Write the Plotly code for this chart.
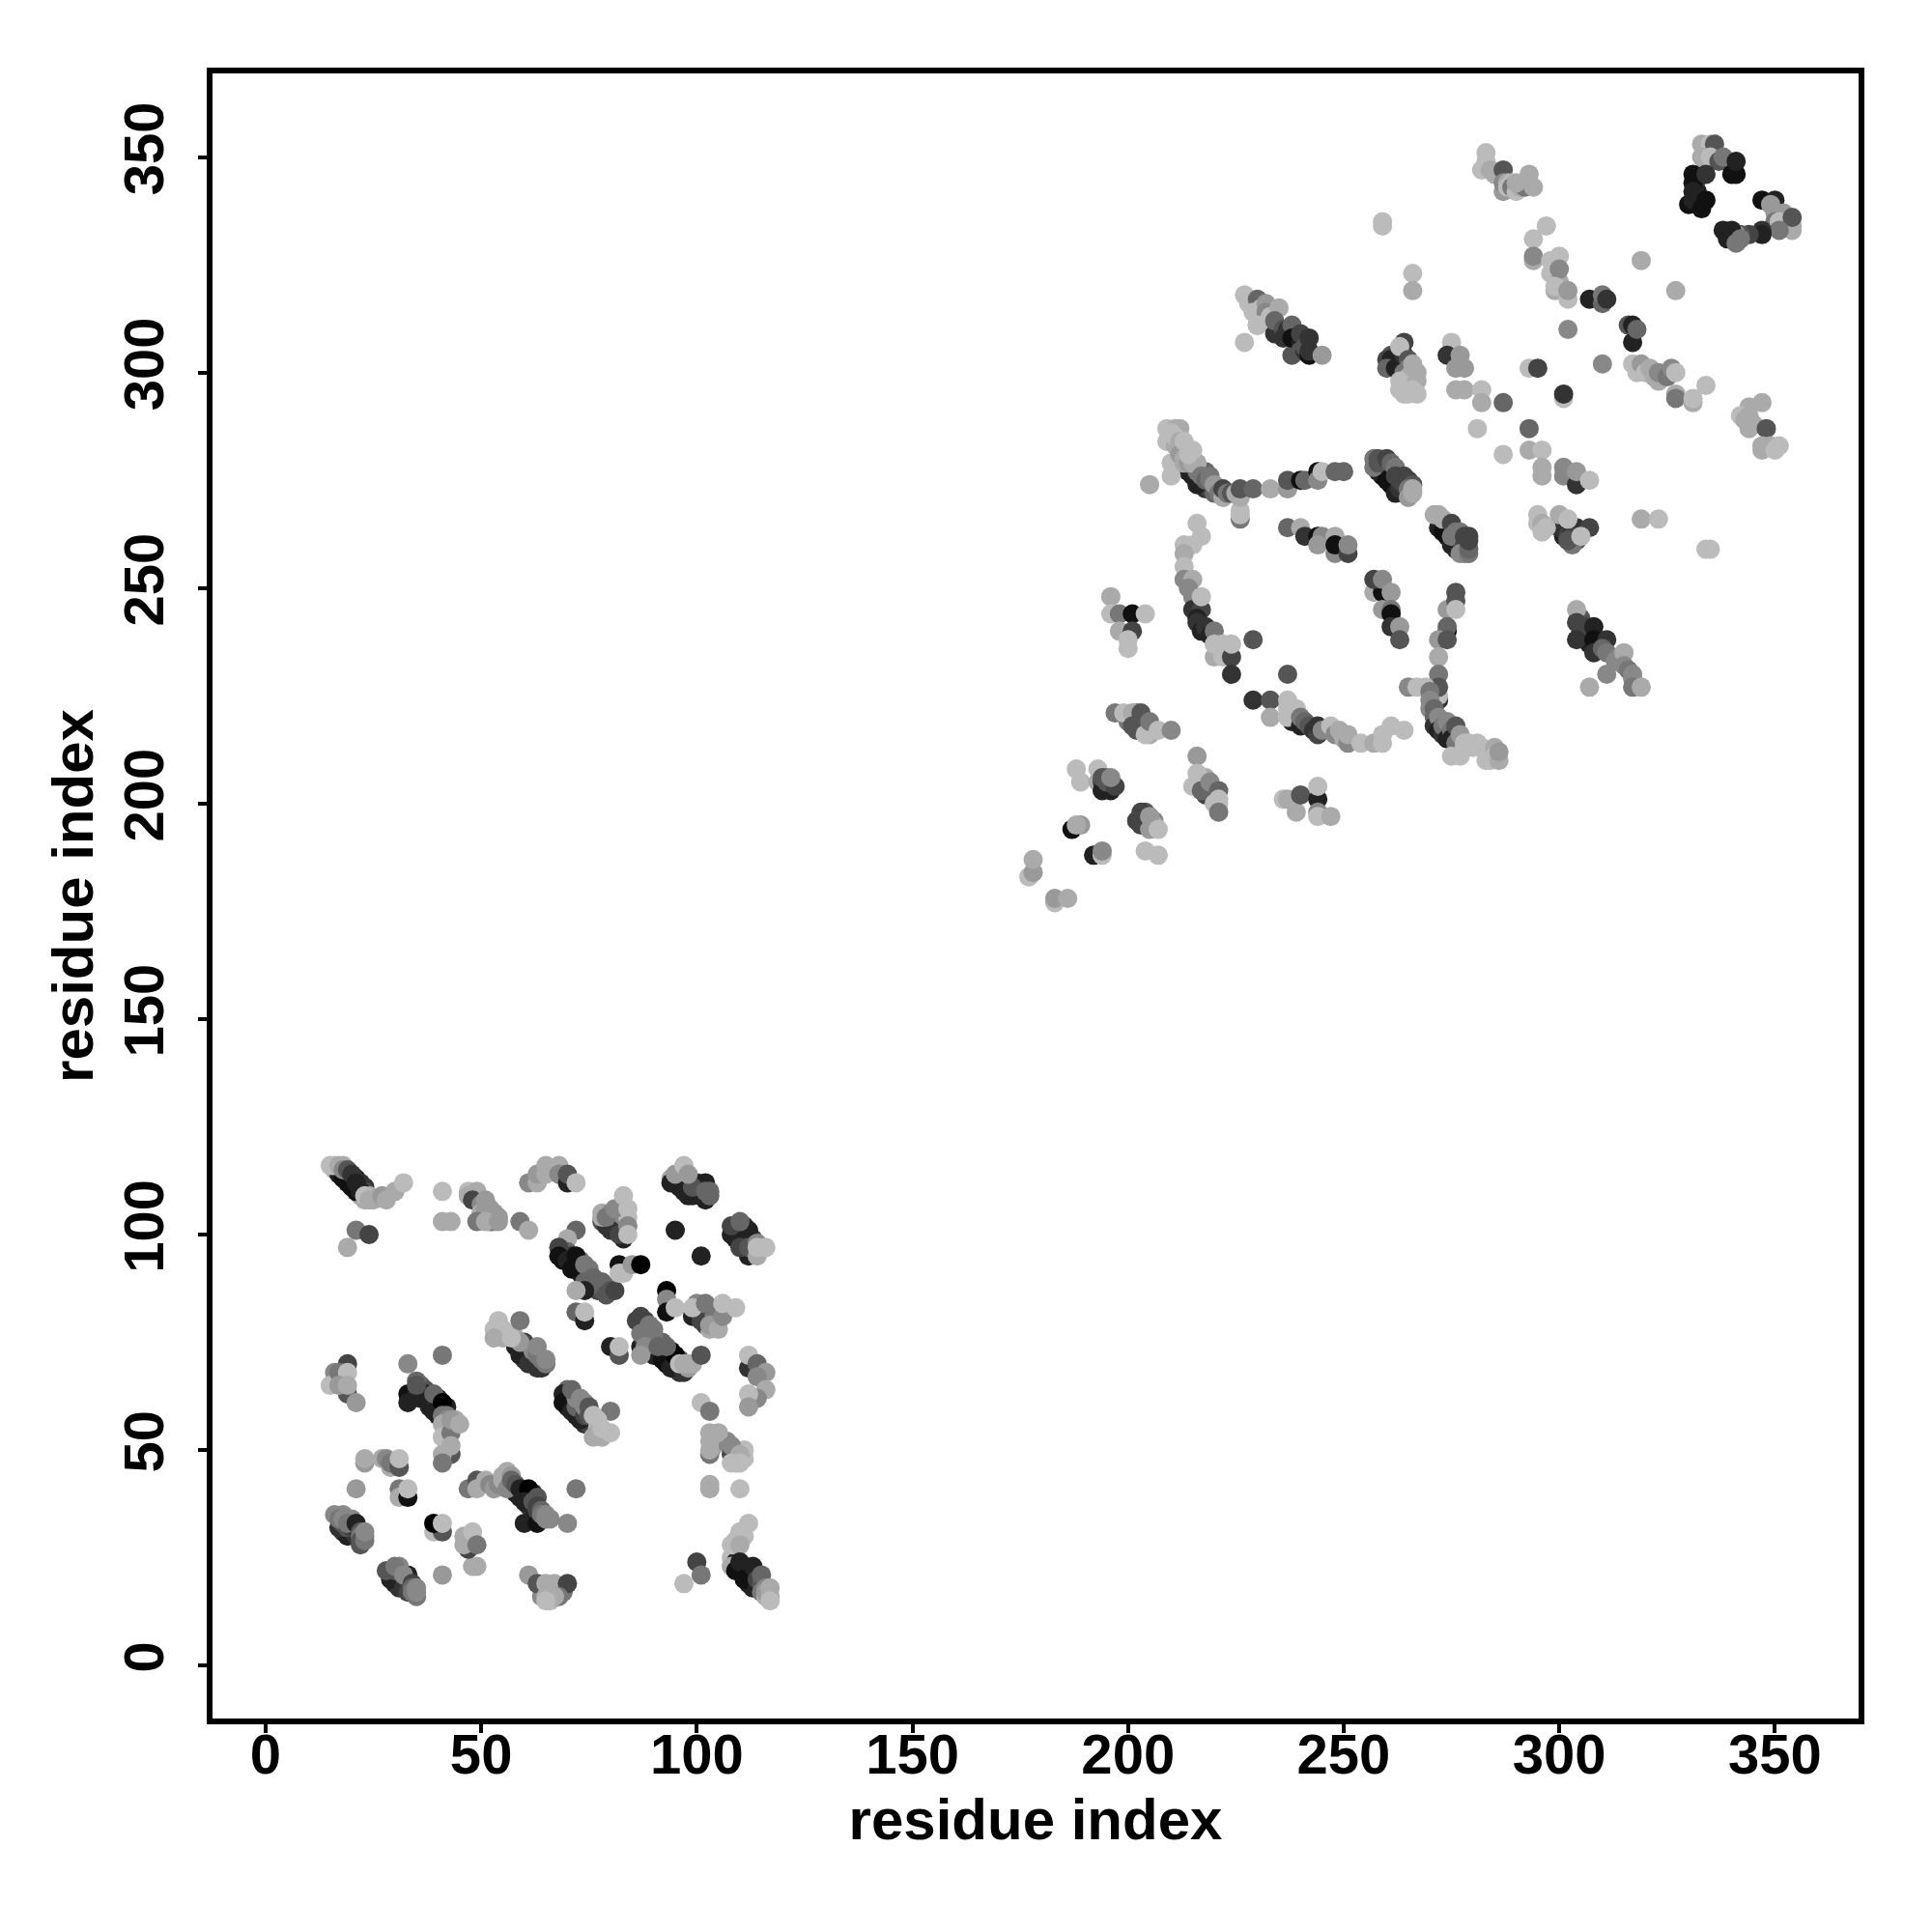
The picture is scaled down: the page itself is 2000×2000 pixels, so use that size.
import plotly.graph_objects as go

# (residue i, residue j, grey level 0-255)
c_top_left = [(16,115,170),(17,115,85),(18,114,34),(19,113,34),(20,112,34),(21,111,34),(22,109,170),(18,116,170),(19,114,68),(20,113,51),(21,113,34),(22,112,51),(23,111,51),(23,110,68),(24,109,170),(23,108,170),(17,114,34),(18,113,17),(19,112,17),(20,111,17),(21,110,17),(15,116,187),(16,116,187),(17,116,170),(18,115,136),(19,115,85),(20,114,51),(21,112,34),(22,110,34),(23,109,187),(24,108,170),(25,108,170),(27,109,153),(28,108,170),(30,110,170),(32,112,187),(21,101,119),(24,100,68),(19,97,170)]
c_mid_top = [(41,110,187),(41,103,170),(43,103,170),(47,110,187),(49,110,170),(47,109,170),(48,108,68),(50,107,136),(52,106,153),(52,104,136),(50,104,119),(53,103,170),(52,103,119),(50,105,170),(51,108,153),(51,106,153),(53,105,153),(54,104,153),(49,103,119),(51,103,170),(54,103,153),(59,103,119),(61,101,170),(61,112,136),(63,112,170),(63,114,153),(65,116,170),(65,114,170),(68,116,170),(68,114,136),(70,112,34),(70,114,85),(72,112,187)]
c_a = [(78,105,170),(79,103,51),(80,102,51),(81,101,51),(81,103,102),(82,102,102),(83,101,119),(80,105,136),(82,105,136),(82,104,136),(83,103,136),(84,104,187),(78,103,85),(79,102,51),(80,101,51),(83,99,34),(82,100,68),(78,104,170),(79,104,119),(81,106,136),(83,109,187),(84,106,187),(84,102,136),(84,100,187),(72,101,102),(70,99,170)]
c_b = [(69,96,34),(69,94,17),(70,96,102),(71,95,51),(71,93,34),(72,93,17),(73,92,34),(73,94,119),(73,91,34),(74,91,119),(75,90,34),(75,92,119),(76,88,34),(77,89,85),(77,87,68),(78,87,85),(79,88,102),(75,88,102),(68,97,68),(68,95,17),(70,94,34),(72,95,17),(71,92,17),(74,93,119),(74,89,102),(76,90,102),(78,89,102),(74,87,34),(72,87,170),(79,86,85),(80,87,85),(81,87,68),(72,82,102),(74,80,34),(74,82,187),(82,93,17),(82,91,187),(83,91,187),(85,93,153),(87,93,0),(95,101,34),(101,95,34),(93,87,0),(93,85,136),(93,82,17),(95,83,187)]
c_c = [(100,82,34),(102,79,68),(103,82,119),(101,83,119),(100,84,136),(104,79,153),(104,83,187),(105,80,170),(103,78,170),(99,81,34),(101,80,68),(99,83,187),(102,84,119),(104,81,119),(103,79,153),(105,78,170),(106,81,136),(106,84,187),(109,83,187)]
c_d = [(95,112,34),(96,111,34),(97,110,34),(98,109,34),(98,112,85),(100,110,34),(100,112,34),(101,111,68),(102,109,51),(96,113,136),(97,114,153),(94,113,170),(94,112,34),(97,112,34),(99,109,34),(102,108,34),(101,109,34),(102,112,34),(99,111,85),(95,114,153),(97,116,187),(98,114,153),(102,110,102),(103,109,102),(103,110,102)]
c_e = [(109,99,34),(110,98,34),(111,97,34),(109,101,68),(109,102,102),(110,101,51),(111,100,34),(111,102,51),(113,97,85),(113,99,68),(112,96,119),(113,96,153),(108,100,34),(112,95,34),(112,99,34),(108,102,68),(112,101,34),(110,103,102),(110,97,68),(112,97,85),(114,95,170),(114,98,136),(114,97,187),(116,97,187)]
c_f = [(88,80,68),(87,79,68),(88,78,85),(88,77,119),(89,75,34),(91,72,34),(93,70,17),(95,69,34),(96,68,51),(89,77,119),(90,78,119),(92,75,102),(94,73,17),(96,71,85),(94,71,17),(87,74,34),(86,80,68),(87,81,68),(90,72,34),(92,71,17),(94,69,34),(97,68,51),(95,72,0),(89,79,119),(87,77,119),(90,76,119),(88,74,136),(87,72,153),(91,74,102),(93,74,102),(96,70,187),(98,69,153),(97,70,170),(98,70,170),(99,70,170),(101,72,85),(80,74,34),(82,72,85),(82,74,187)]
c_g = [(59,73,34),(60,71,51),(62,70,51),(63,69,51),(61,73,85),(61,74,68),(62,72,85),(58,74,34),(59,72,34),(61,70,51),(64,69,51),(60,75,68),(62,73,136),(63,72,119),(64,71,119),(56,77,187),(55,76,170),(58,76,170),(59,75,153),(65,70,119),(54,80,187),(59,80,119),(53,78,187),(55,78,187),(53,76,170),(57,76,187),(63,74,136),(65,71,136)]
c_h = [(19,70,68),(19,63,85),(16,68,136),(15,65,187),(17,68,119),(19,68,187),(17,65,153),(19,65,170),(21,61,153),(33,70,136),(41,72,119)]
c_i = [(34,62,34),(36,62,34),(38,61,17),(38,60,34),(40,58,34),(36,64,85),(36,65,102),(37,64,85),(38,63,85),(40,62,34),(40,60,17),(42,60,34),(33,63,17),(33,61,34),(35,63,34),(37,63,34),(39,59,34),(41,59,34),(35,66,102),(35,65,85),(39,63,102),(41,61,0),(42,58,119),(41,58,119),(42,55,136),(44,57,170),(42,57,136),(43,55,119),(42,52,170),(42,50,85),(41,56,170),(41,53,187),(43,54,119),(43,57,153),(45,56,170),(43,49,85),(41,49,170),(43,51,170),(41,47,119)]
c_j = [(70,62,34),(70,60,34),(72,58,34),(74,56,51),(75,56,68),(70,64,102),(69,63,34),(69,61,17),(71,59,34),(73,57,34),(72,60,102),(74,58,68),(72,62,136),(74,60,136),(74,61,136),(75,58,85),(71,64,102),(73,62,136),(75,60,85),(80,59,119),(77,57,187),(77,55,187),(77,54,170),(76,53,170),(78,53,170),(76,58,187),(78,55,187),(80,54,187)]
c_k = [(112,69,51),(112,72,187),(114,70,102),(116,68,153),(114,67,136),(116,64,170),(114,62,136),(112,63,187),(112,60,153),(101,61,187),(103,59,119)]
c_l = [(104,53,170),(104,51,170),(106,52,136),(107,52,136),(109,50,170),(109,47,187),(111,48,187),(111,50,187),(103,49,119),(103,54,170),(105,54,170),(103,52,170),(103,50,170),(108,49,68),(108,51,136),(110,49,170),(108,47,187),(110,47,187),(103,42,170),(103,41,170),(110,41,187)]
c_m = [(108,25,187),(109,26,187),(109,29,187),(111,30,187),(110,22,17),(111,23,34),(112,21,17),(112,19,34),(113,20,34),(113,18,34),(109,24,34),(109,23,17),(112,33,187),(110,31,187),(108,28,187),(110,28,170),(108,23,170),(109,22,17),(110,24,34),(111,20,17),(113,23,34),(114,18,34),(114,20,68),(115,19,85),(115,21,102),(115,17,119),(116,18,136),(116,16,170),(116,17,153),(117,18,170),(117,16,170),(117,15,187),(100,24,68),(101,21,119),(97,19,187)]
c_n = [(64,18,170),(64,16,136),(66,15,187),(66,17,170),(66,18,119),(69,17,119),(61,21,153),(63,19,85),(65,19,170),(67,19,170),(70,19,68),(68,16,119),(65,16,170),(67,16,170),(65,15,187),(41,21,153),(48,23,170),(49,23,170)]
c_o = [(47,27,68),(46,30,170),(46,28,170),(48,31,187),(49,28,119),(39,31,187),(41,31,85),(39,33,0),(41,33,187),(21,41,153),(31,41,119),(31,39,170),(33,39,17),(33,41,187)]
c_p = [(23,47,153),(23,48,170),(27,48,170),(28,48,136),(29,46,170),(29,47,119),(31,46,85),(31,48,187)]
c_q = [(58,40,34),(59,39,34),(60,40,17),(61,39,34),(62,40,34),(61,37,51),(62,36,51),(62,34,34),(47,41,119),(49,43,85),(49,41,170),(51,43,170),(52,42,136),(53,41,153),(54,42,136),(55,43,170),(55,44,170),(56,45,170),(56,41,136),(57,44,153),(57,43,102),(58,42,85),(59,41,34),(61,41,0),(60,38,34),(60,33,34),(63,33,17),(62,38,85),(63,39,85),(63,37,68),(63,36,68),(64,36,102),(64,35,119),(65,35,136),(65,34,136),(66,34,136),(70,33,136),(72,41,119)]
c_r = [(18,31,51),(20,31,51),(19,30,34),(17,32,51),(21,30,51),(22,28,85),(18,33,85),(19,32,85),(20,32,68),(21,32,51),(16,35,136),(18,35,136),(17,34,119),(18,34,136),(20,34,136),(19,33,119),(21,33,34),(22,31,85),(22,30,119),(23,30,119),(22,29,85),(23,29,119),(23,31,136)]
c_s = [(30,19,34),(31,18,51),(29,21,68),(31,20,34),(32,20,51),(29,20,34),(32,18,51),(33,17,68),(28,22,85),(30,22,85),(33,21,34),(31,23,136),(30,23,119),(32,21,136),(34,19,68),(34,18,102),(34,17,119),(35,16,119),(35,17,136),(35,18,136)]

u_a = [(183,177,187),(183,178,153),(186,178,170),(177,183,187),(178,184,153),(178,187,170),(187,194,17),(189,195,153),(188,195,170),(192,188,34),(194,188,187),(194,189,136),(204,189,187),(207,188,187)]
u_b = [(204,196,68),(204,198,85),(206,196,136),(206,195,170),(203,198,68),(202,196,68),(203,195,68),(205,197,153),(205,194,153),(207,194,187),(188,208,187),(189,205,187),(193,208,187),(193,205,170),(194,205,68),(195,204,51),(194,203,34),(196,203,34),(195,206,119),(195,205,85),(194,206,85),(197,204,68),(196,206,136)]
u_c = [(218,204,102),(218,202,68),(218,206,170),(219,204,136),(220,203,119),(216,211,153),(216,207,187),(215,204,187),(219,202,68),(217,203,102),(219,205,136),(221,203,102),(220,200,187),(221,201,187),(221,200,187),(221,198,119),(236,201,187),(237,201,170),(239,198,170),(240,202,85),(244,201,34),(244,204,187),(244,198,136),(244,197,187),(247,197,170)]
u_d = [(200,219,119),(201,220,119),(202,219,119),(202,217,85),(203,220,85),(202,221,119),(204,218,119),(205,216,170),(197,221,119),(199,221,187),(201,221,170),(201,218,85),(203,217,85),(203,221,85),(204,216,187),(205,219,119),(207,217,187),(210,217,136)]
u_e = [(196,248,170),(196,244,187),(198,244,119),(201,244,17),(204,244,187),(198,240,170),(201,240,68),(200,236,187),(200,238,187)]
u_f = [(216,265,187),(217,262,187),(213,260,187),(215,260,187),(213,258,170),(213,255,187),(213,252,136),(215,252,170),(214,250,136),(215,248,136),(215,245,51),(217,245,68),(217,248,187),(216,243,34),(216,242,51),(217,240,34),(218,241,51),(219,239,34),(220,240,119),(220,234,170),(220,237,187),(222,234,187),(222,237,187),(224,234,68),(224,237,187),(224,230,51),(229,238,85),(237,230,85)]
u_g = [(238,219,34),(229,224,51),(233,224,85),(233,220,170),(237,224,187),(237,220,187),(237,222,187),(239,222,187),(240,218,34),(240,220,119),(241,219,102),(242,218,85),(243,217,51),(244,216,68),(244,218,51),(245,217,136),(247,218,187),(248,216,136),(249,217,170),(250,215,170),(251,214,136),(251,216,170),(254,214,187),(257,214,170),(259,214,187),(259,216,187),(261,218,187),(264,217,187)]
u_h = [(215,276,34),(216,275,51),(217,274,34),(218,273,51),(219,273,68),(214,277,34),(216,274,34),(216,277,119),(218,277,102),(205,274,170),(210,276,187),(210,279,187),(213,279,170),(209,284,187),(211,283,170),(209,287,187),(212,287,170),(211,287,170),(210,286,187),(211,285,187),(212,284,170),(212,281,153),(213,284,187),(213,280,170),(214,279,153),(215,279,170),(216,279,170),(214,281,187),(215,282,187),(217,276,119),(218,275,102),(219,275,119),(219,276,119),(220,272,102),(220,274,153),(221,272,119),(222,271,170),(222,273,68),(223,272,119),(224,272,85),(225,272,170),(226,266,119),(226,267,187),(226,268,187),(226,271,170),(226,273,85),(229,273,102),(233,273,170)]
u_i = [(237,273,153),(237,275,85),(240,275,17),(241,275,102),(244,277,17),(244,275,136),(245,277,187),(248,277,102),(250,277,102)]
u_j = [(237,264,102),(240,264,170),(241,262,51),(244,262,17),(245,262,136),(244,260,153),(248,262,170),(248,258,136),(248,260,17),(251,258,68),(251,260,136)]
u_k = [(259,278,51),(259,276,17),(261,276,17),(261,274,17),(262,274,34),(258,277,34),(260,275,17),(262,272,34),(264,272,34),(263,273,51),(257,280,119),(257,278,119),(258,280,85),(258,279,85),(260,280,68),(261,279,102),(262,278,119),(262,276,68),(263,275,68),(264,276,68),(264,274,68),(265,275,68),(266,274,85),(265,273,119),(265,271,153),(266,272,170),(266,273,170)]
u_l = [(273,265,34),(274,262,34),(274,264,34),(276,261,34),(276,259,51),(277,260,34),(272,264,34),(273,263,17),(275,260,34),(271,267,170),(272,267,170),(273,266,170),(275,265,68),(276,263,119),(275,262,119),(277,263,119),(278,262,68),(278,260,68),(278,258,119),(277,258,136),(279,258,119),(279,259,102),(279,262,68),(279,261,68)]
u_m = [(257,249,170),(259,249,17),(257,252,68),(259,252,136),(261,249,153),(259,245,153),(261,245,119),(261,244,17),(261,241,51),(263,241,153),(263,238,85)]
u_n = [(274,245,153),(276,249,85),(276,247,85),(276,245,187),(274,240,0),(274,241,102),(272,238,153),(274,238,85),(272,234,170),(272,230,119),(272,224,51),(272,225,187),(272,227,85)]
u_o = [(265,227,136),(267,227,187),(269,227,187),(270,226,119),(270,224,136),(270,222,136),(271,222,102),(271,220,102),(271,218,51),(272,220,136),(272,217,34),(273,216,51),(273,218,119),(274,215,34),(274,219,136),(275,217,119),(275,215,34),(276,218,85),(276,214,119),(277,216,153),(275,211,187),(277,211,187),(278,214,187),(278,213,187),(279,214,187),(280,213,187),(281,214,187),(282,213,187),(283,210,187),(284,212,187),(284,210,187),(285,213,170),(285,211,187),(286,210,170),(286,212,153)]
u_p = [(305,240,51),(306,239,51),(307,240,34),(305,243,85),(306,241,68),(309,237,51),(307,237,34),(309,236,51),(304,245,170),(304,242,68),(308,241,34),(304,238,51),(308,238,17),(311,238,51),(308,235,51),(310,236,102),(311,235,119),(313,233,136),(314,234,136),(315,235,170),(315,232,136),(316,231,119),(311,230,136),(307,227,170),(317,230,136),(317,229,136),(317,227,119),(319,227,170)]
u_q = [(332,341,17),(332,339,17),(333,340,17),(332,342,34),(332,345,51),(331,344,17),(333,353,170),(334,352,170),(335,353,187),(336,353,85),(333,350,170),(334,349,170),(335,350,187),(337,349,85),(339,349,85),(338,350,119),(340,346,17),(341,346,17),(341,349,34),(331,346,17),(334,346,51),(330,339,17),(331,340,34),(331,342,34),(333,338,17),(334,340,17),(347,340,17),(350,340,34),(349,339,153),(350,337,153),(352,337,153),(353,335,170),(352,334,187),(350,335,119),(354,333,170),(354,334,170),(351,335,187),(354,336,85),(351,333,119),(347,333,51),(347,332,34),(344,332,68),(342,332,85),(341,332,153),(338,333,34),(339,331,34),(340,331,34),(340,333,34),(342,331,119),(341,330,119)]
u_r = [(283,351,187),(283,349,187),(282,347,187),(284,347,170),(285,346,170),(287,347,85),(287,342,153),(287,344,136),(288,344,170),(288,343,187),(289,344,187),(289,343,119),(290,342,187),(291,343,170),(292,343,119),(290,344,170),(293,346,170),(294,343,170),(259,334,187),(259,335,187)]
u_s = [(297,334,187),(294,331,187),(294,326,170),(294,327,136),(298,326,187),(300,327,187),(298,323,187),(299,322,187),(300,321,170),(300,320,170),(300,324,136),(299,319,170),(299,320,187),(302,317,187),(302,319,153),(307,317,34),(310,316,102),(310,318,119),(311,317,51),(302,310,136),(319,326,170),(327,319,170),(316,311,85),(317,311,34),(317,307,34),(318,310,102),(266,323,187),(266,319,170)]
u_t = [(227,318,187),(227,307,187),(228,316,187),(230,317,102),(230,311,85),(229,314,187),(231,315,187),(232,316,153),(232,314,136),(233,313,187),(235,315,170),(230,311,187),(234,309,51),(234,312,102),(236,310,85),(236,308,51),(237,310,51),(238,311,102),(238,304,85),(238,308,17),(240,307,34),(240,305,85),(240,309,68),(241,305,51),(241,306,85),(242,308,51),(242,304,17),(242,305,51),(245,304,153)]
u_u = [(261,304,85),(262,303,51),(262,304,68),(263,302,51),(264,302,34),(260,303,68),(261,303,34),(260,301,102),(262,301,34),(264,304,51),(264,307,68),(263,306,187),(265,303,85),(265,301,119),(264,300,119),(266,302,170),(266,300,170),(267,300,170),(265,299,170),(263,298,187),(265,297,187),(267,298,170),(263,296,187),(264,295,187),(266,296,187),(265,295,187),(267,295,187)]
u_v = [(275,307,187),(274,304,51),(277,304,153),(276,301,153),(278,301,153),(276,296,170),(278,296,170),(282,296,187),(282,293,170),(287,293,102),(281,287,187),(287,281,187),(293,287,102),(293,301,187),(295,301,68),(301,294,187),(301,295,51),(310,302,136)]
u_w = [(317,302,187),(318,300,187),(319,302,153),(320,300,187),(321,301,170),(322,299,170),(323,298,170),(323,300,136),(325,299,119),(326,301,136),(327,300,187),(327,295,170),(327,294,119),(331,293,170),(331,294,187),(334,297,187),(344,292,170),(347,293,170),(342,290,187),(344,290,170),(345,288,170),(343,289,170),(344,287,170),(348,287,85),(347,282,170),(347,283,170),(349,283,170),(350,282,187),(351,283,187)]
u_x = [(293,282,170),(296,282,187),(296,278,170),(296,276,170),(301,278,136),(301,276,136),(304,274,51),(304,277,153),(307,275,187)]
u_y = [(301,262,34),(300,264,51),(304,264,51),(307,264,68),(301,264,51),(302,262,68),(303,263,51),(304,261,85),(303,262,68),(295,267,187),(295,265,187),(296,265,170),(296,263,187),(297,264,187),(300,267,170),(302,266,187),(303,260,119),(302,261,85),(305,262,187),(319,266,170),(323,266,187),(334,259,187),(335,259,187)]

clusters = [c_top_left,c_mid_top,c_a,c_b,c_c,c_d,c_e,c_f,c_g,c_h,c_i,c_j,c_k,c_l,c_m,c_n,c_o,c_p,c_q,c_r,c_s,
            u_a,u_b,u_c,u_d,u_e,u_f,u_g,u_h,u_i,u_j,u_k,u_l,u_m,u_n,u_o,u_p,u_q,u_r,u_s,u_t,u_u,u_v,u_w,u_x,u_y]
tick_values = [0,50,100,150,200,250,300,350]

res_i = [p[0] for c in clusters for p in c]
res_j = [p[1] for c in clusters for p in c]
greys = [f"rgb({p[2]},{p[2]},{p[2]})" for c in clusters for p in c]

fig = go.Figure(go.Scatter(x=res_i, y=res_j, mode="markers",
                           marker=dict(size=20, color=greys, line=dict(width=0)), showlegend=False))
font = dict(family="Liberation Sans", size=58, color="black", weight=700)
axis = dict(tickmode="array", tickvals=tick_values, ticks="outside", ticklen=9, tickwidth=4,
            tickcolor="black", showline=True, linewidth=6, linecolor="black", mirror=True,
            showgrid=False, zeroline=False, tickfont=font, range=[-12.3, 369.4])
tfont = dict(family="Liberation Sans", size=60, color="black", weight=700)
fig.update_layout(width=2000, height=2000, autosize=False, paper_bgcolor="white", plot_bgcolor="white",
                  margin=dict(l=212, r=84, t=68, b=229))
fig.update_xaxes(**axis, ticklabelstandoff=-28, title=dict(text="residue index", font=tfont, standoff=17))
fig.update_yaxes(**axis, tickangle=-90, ticklabelstandoff=13, title=dict(text="residue index", font=tfont, standoff=2))
fig.write_html("out.html")
